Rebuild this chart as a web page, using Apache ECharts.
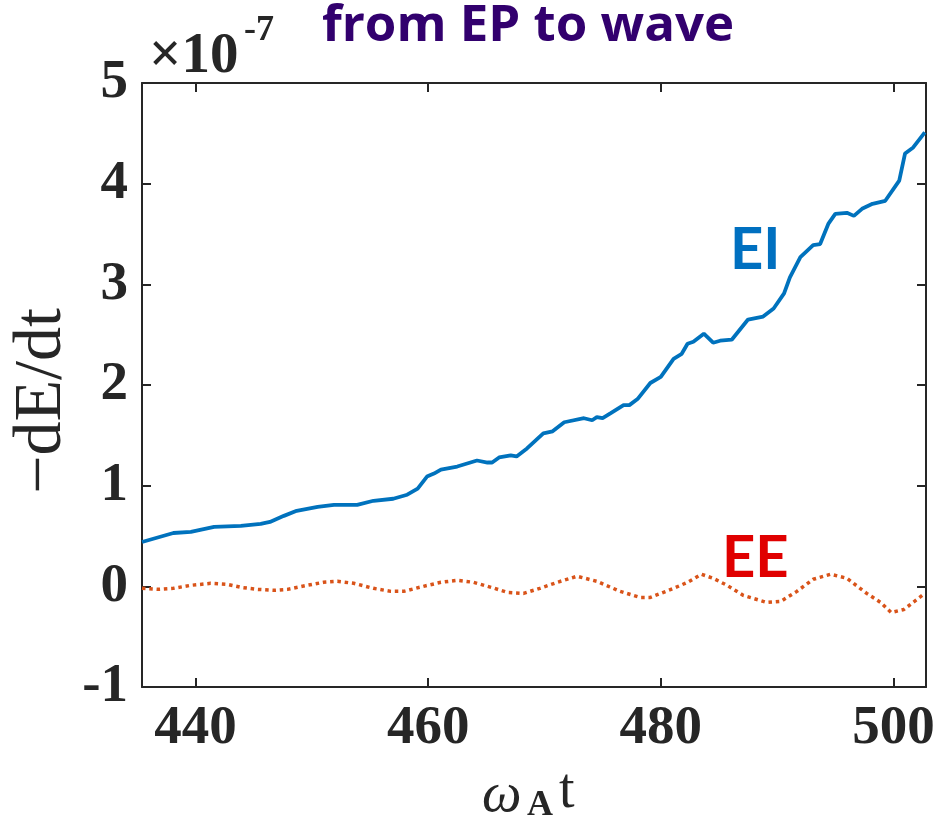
<!DOCTYPE html>
<html>
<head>
<meta charset="utf-8">
<title>from EP to wave</title>
<script src="https://cdn.jsdelivr.net/npm/echarts@6/dist/echarts.min.js"></script>
<style>
  html, body { margin: 0; padding: 0; background: #ffffff; }
  #chart { width: 937px; height: 822px; }
</style>
</head>
<body>
<div id="chart"></div>
<script>
// Power transfer from energetic particles to the wave, in units of 1e-7
const xTicks = [440, 460, 480, 500];
const yTicks = [-1, 0, 1, 2, 3, 4, 5];

// EI: ion contribution
const eiTime = [435.4, 438.1, 439.6, 441.6, 443.9, 445.6, 446.4, 447.6, 448.7, 450.5,
  451.9, 453.9, 455.3, 457.0, 458.2, 459.1, 459.9, 460.5, 461.1, 462.5,
  464.2, 465.1, 465.5, 466.1, 467.1, 467.6, 468.5, 469.9, 470.7, 471.7,
  473.4, 474.1, 474.5, 475.0, 475.7, 476.8, 477.3, 478.0, 479.1, 480.0,
  481.1, 481.8, 482.3, 482.8, 483.7, 484.5, 485.1, 486.1, 487.5, 488.8,
  489.7, 490.6, 491.1, 492.0, 493.1, 493.7, 494.4, 495.0, 496.0, 496.6,
  497.3, 498.2, 499.3, 500.5, 501.0, 501.7, 502.7];
const eiValue = [0.44, 0.53, 0.54, 0.59, 0.60, 0.62, 0.64, 0.70, 0.75, 0.79,
  0.81, 0.81, 0.85, 0.87, 0.91, 0.97, 1.09, 1.12, 1.16, 1.19,
  1.25, 1.23, 1.23, 1.28, 1.30, 1.29, 1.37, 1.52, 1.54, 1.63,
  1.67, 1.65, 1.68, 1.67, 1.72, 1.80, 1.80, 1.86, 2.02, 2.08,
  2.26, 2.31, 2.41, 2.43, 2.51, 2.42, 2.44, 2.45, 2.65, 2.68,
  2.76, 2.91, 3.07, 3.27, 3.39, 3.40, 3.60, 3.70, 3.71, 3.68,
  3.75, 3.80, 3.83, 4.03, 4.30, 4.36, 4.51];

// EE: electron contribution
const eeTime = [435.4, 436.7, 438.1, 439.6, 441.3, 442.7, 443.9, 445.3, 446.7, 447.9,
  449.6, 451.0, 452.2, 453.6, 455.3, 456.8, 457.9, 459.6, 461.1, 462.5,
  463.9, 465.7, 466.8, 468.2, 469.6, 471.1, 472.8, 474.5, 476.5, 478.2,
  479.1, 481.1, 482.3, 483.5, 484.5, 485.7, 487.1, 489.1, 490.3, 491.7,
  493.1, 494.6, 496.0, 497.7, 498.9, 499.8, 500.9, 502.7];
const eeValue = [-0.02, -0.03, -0.02, 0.01, 0.03, 0.02, -0.01, -0.03, -0.04, -0.03,
  0.01, 0.04, 0.05, 0.03, -0.02, -0.05, -0.05, 0.00, 0.04, 0.06,
  0.04, -0.02, -0.06, -0.07, -0.02, 0.04, 0.10, 0.05, -0.05, -0.11,
  -0.11, -0.02, 0.04, 0.12, 0.08, 0.01, -0.09, -0.16, -0.15, -0.05,
  0.07, 0.12, 0.08, -0.07, -0.16, -0.26, -0.23, -0.07];

const xMin = 435.4, xMax = 502.8;
const axisColor = '#262626';
const serif = '"Liberation Serif", "Times New Roman", serif';

function pairs(xs, ys) { return xs.map((x, i) => [x, ys[i]]); }

const tickStyle = { show: true, inside: true, length: 9, lineStyle: { color: axisColor, width: 2 } };
const lineStyle = { show: true, onZero: false, lineStyle: { color: axisColor, width: 2 } };

const chart = echarts.init(document.getElementById('chart'), null, { renderer: 'canvas' });
chart.setOption({
  backgroundColor: '#ffffff',
  animation: false,
  grid: { left: 142, right: 11, top: 83, bottom: 135, containLabel: false, outerBoundsMode: 'none' },
  xAxis: [
    {
      type: 'value', position: 'bottom', min: xMin, max: xMax,
      axisLine: lineStyle,
      axisTick: Object.assign({}, tickStyle, { customValues: xTicks }),
      axisLabel: { customValues: xTicks, margin: 14, color: '#262626', fontFamily: serif,
        fontWeight: 'bold', fontSize: 55 },
      splitLine: { show: false }
    },
    {
      type: 'value', position: 'top', min: xMin, max: xMax,
      axisLine: lineStyle,
      axisTick: Object.assign({}, tickStyle, { customValues: xTicks }),
      axisLabel: { show: false },
      splitLine: { show: false }
    }
  ],
  yAxis: [
    {
      type: 'value', position: 'left', min: -1, max: 5, interval: 1,
      axisLine: lineStyle,
      axisTick: Object.assign({}, tickStyle, { customValues: yTicks }),
      axisLabel: { customValues: yTicks, margin: 14, color: '#262626', fontFamily: serif,
        fontWeight: 'bold', fontSize: 55 },
      splitLine: { show: false }
    },
    {
      type: 'value', position: 'right', min: -1, max: 5, interval: 1,
      axisLine: lineStyle,
      axisTick: Object.assign({}, tickStyle, { customValues: yTicks }),
      axisLabel: { show: false },
      splitLine: { show: false }
    }
  ],
  series: [
    {
      name: 'EI', type: 'line', xAxisIndex: 0, yAxisIndex: 0,
      data: pairs(eiTime, eiValue), showSymbol: false, symbol: 'none',
      lineStyle: { color: '#0072BD', width: 3.8 }, z: 3
    },
    {
      name: 'EE', type: 'line', xAxisIndex: 0, yAxisIndex: 0,
      data: pairs(eeTime, eeValue), showSymbol: false, symbol: 'none',
      lineStyle: { color: '#D95319', width: 3.5, type: [3.5, 3.8], cap: 'butt' }, z: 2
    }
  ],
  graphic: [
    { type: 'text', left: 149, top: 29, style: { text: '×10', font: 'bold 57px ' + serif, fill: '#262626' } },
    { type: 'text', left: 244, top: 13, style: { text: '-7', font: 'bold 36px ' + serif, fill: '#262626' } },
    { type: 'text', x: 528, y: 26, style: { text: 'from EP to wave', font: 'bold 51px "Open Sans"', fill: '#32006e',
        align: 'center', verticalAlign: 'middle' } },
    { type: 'text', x: 730, y: 250, style: { text: 'EI', font: 'bold 58px Lato', fill: '#0070C0',
        align: 'left', verticalAlign: 'middle' } },
    { type: 'text', x: 722, y: 558, style: { text: 'EE', font: 'bold 58px Lato', fill: '#E00000',
        align: 'left', verticalAlign: 'middle' } },
    { type: 'text', x: 42, y: 401, rotation: Math.PI / 2, style: { text: '\u2212dE/dt', font: '68px ' + serif,
        fill: '#262626', align: 'center', verticalAlign: 'middle' } },
    { type: 'text', x: 482, y: 796, style: { text: 'ω', font: 'italic 56px ' + serif, fill: '#262626',
        align: 'left', verticalAlign: 'middle' } },
    { type: 'text', x: 527, y: 806, style: { text: 'A', font: 'bold 36px ' + serif, fill: '#262626',
        align: 'left', verticalAlign: 'middle' } },
    { type: 'text', x: 559, y: 792, style: { text: 't', font: '56px ' + serif, fill: '#262626',
        align: 'left', verticalAlign: 'middle' } }
  ]
});
</script>
</body>
</html>
